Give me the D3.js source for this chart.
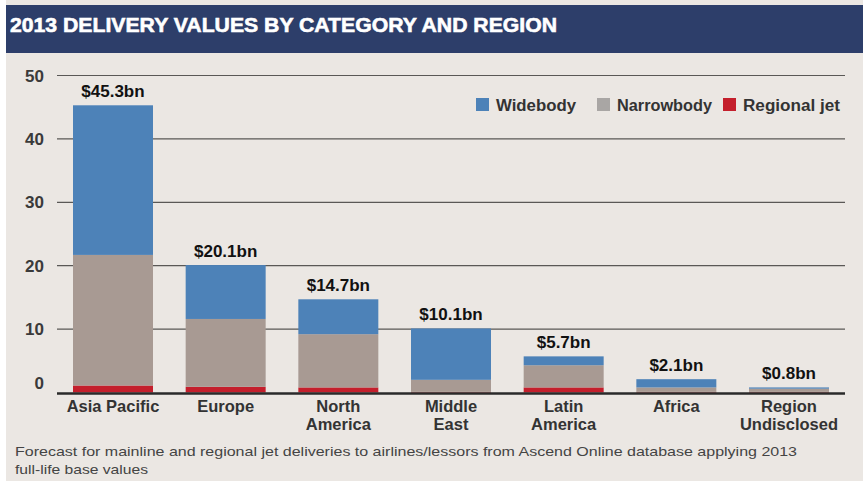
<html lang="en">
<head>
    <title>2013 delivery values by category and region</title>
    <style>
        body {
            margin: 0;
            background: #fff;
        }

        #chart {
            width: 863px;
            height: 481px;
        }

        .grid line {
            stroke: #5a5856;
            stroke-width: 1.2px;
        }

        text {
            font-family: "Liberation Sans", Arial, sans-serif;
        }
    </style>
</head>
<body>
<div id="chart"></div>
<script src="https://cdnjs.cloudflare.com/ajax/libs/d3/7.8.5/d3.min.js"></script>
<script>
    // data ($bn)
    const regions = ["Asia Pacific", "Europe", "North America", "Middle East", "Latin America", "Africa", "Region Undisclosed"];
    const regionLines = [["Asia Pacific"], ["Europe"], ["North", "America"], ["Middle", "East"], ["Latin", "America"], ["Africa"], ["Region", "Undisclosed"]];
    const regional = [1.1, 0.9, 0.8, 0.1, 0.8, 0.1, 0.1];
    const narrowbody = [20.6, 10.7, 8.4, 1.9, 3.5, 0.7, 0.5];
    const widebody = [23.6, 8.5, 5.5, 8.1, 1.4, 1.3, 0.2];
    const totals = ["$45.3bn", "$20.1bn", "$14.7bn", "$10.1bn", "$5.7bn", "$2.1bn", "$0.8bn"];
    const yTicks = [0, 10, 20, 30, 40, 50];
    const seriesNames = ["Widebody", "Narrowbody", "Regional jet"];
    const footnote = [
        "Forecast for mainline and regional jet deliveries to airlines/lessors from Ascend Online database applying 2013",
        "full-life base values"
    ];

    const width = 863;
    const height = 481;
    const colors = {"Widebody": "#4d82b8", "Narrowbody": "#a89a93", "Regional jet": "#c41f2c"};
    const legendColors = {"Widebody": "#4d82b8", "Narrowbody": "#a9a6a4", "Regional jet": "#c41f2c"};

    const svg = d3.select("#chart").append("svg")
        .attr("width", width)
        .attr("height", height);

    // background panel and title bar
    svg.append("rect").attr("x", 6).attr("y", 0).attr("width", width - 6).attr("height", height).attr("fill", "#ebe7e3");
    svg.append("rect").attr("x", 6).attr("y", 5).attr("width", width - 6).attr("height", 48).attr("fill", "#2d3e6a");
    svg.append("text")
        .attr("x", 10).attr("y", 32)
        .attr("fill", "#fff")
        .attr("font-family", "'DejaVu Sans Condensed', 'DejaVu Sans', sans-serif")
        .attr("font-weight", "bold")
        .attr("font-size", 21)
        .attr("stroke", "#fff")
        .attr("stroke-width", 0.6)
        .attr("textLength", 547)
        .attr("lengthAdjust", "spacingAndGlyphs")
        .text("2013 DELIVERY VALUES BY CATEGORY AND REGION");

    const x = d3.scaleBand()
        .domain(regions)
        .range([57, 845])
        .paddingInner(0.29)
        .paddingOuter(0.142);

    const y = d3.scaleLinear()
        .domain([0, 50])
        .range([392.5, 75.5]);

    // gridlines
    svg.append("g")
        .attr("class", "grid")
        .selectAll("line")
        .data(yTicks.filter(d => d > 0))
        .enter().append("line")
        .attr("x1", 57).attr("x2", 845)
        .attr("y1", d => y(d)).attr("y2", d => y(d));

    // y tick labels
    svg.append("g")
        .selectAll("text")
        .data(yTicks)
        .enter().append("text")
        .attr("x", 44)
        .attr("y", d => d === 0 ? y(d) - 4 : y(d) + 6)
        .attr("text-anchor", "end")
        .attr("font-size", 17)
        .attr("font-weight", "bold")
        .attr("fill", "#3a3a3a")
        .text(d => d);

    // stacked bars
    const rows = regions.map((r, i) => ({
        region: r,
        "Regional jet": regional[i],
        "Narrowbody": narrowbody[i],
        "Widebody": widebody[i]
    }));
    const stack = d3.stack().keys(["Regional jet", "Narrowbody", "Widebody"]);
    const layers = stack(rows);

    svg.append("g")
        .selectAll("g")
        .data(layers)
        .enter().append("g")
        .attr("fill", d => colors[d.key])
        .selectAll("rect")
        .data(d => d)
        .enter().append("rect")
        .attr("x", d => x(d.data.region))
        .attr("width", x.bandwidth())
        .attr("y", d => y(d[1]))
        .attr("height", d => y(d[0]) - y(d[1]));

    // baseline
    svg.append("line")
        .attr("x1", 57).attr("x2", 845)
        .attr("y1", y(0) + 1).attr("y2", y(0) + 1)
        .attr("stroke", "#2a2a2a")
        .attr("stroke-width", 2.5);

    // total labels
    const sums = regions.map((r, i) => regional[i] + narrowbody[i] + widebody[i]);
    svg.append("g")
        .selectAll("text")
        .data(regions)
        .enter().append("text")
        .attr("x", d => x(d) + x.bandwidth() / 2)
        .attr("y", (d, i) => y(sums[i]) - 8)
        .attr("text-anchor", "middle")
        .attr("font-size", 17)
        .attr("font-weight", "bold")
        .attr("fill", "#111")
        .text((d, i) => totals[i]);

    // category labels
    const cat = svg.append("g")
        .selectAll("text")
        .data(regions)
        .enter().append("text")
        .attr("x", d => x(d) + x.bandwidth() / 2)
        .attr("y", 412)
        .attr("text-anchor", "middle")
        .attr("font-size", 16.5)
        .attr("font-weight", "bold")
        .attr("fill", "#333");
    cat.selectAll("tspan")
        .data((d, i) => regionLines[i].map(t => ({t: t, cx: x(d) + x.bandwidth() / 2})))
        .enter().append("tspan")
        .attr("x", d => d.cx)
        .attr("dy", (d, i) => i === 0 ? 0 : 18)
        .text(d => d.t);

    // legend
    const legendX = [476, 597, 723];
    const legend = svg.append("g")
        .selectAll("g")
        .data(seriesNames)
        .enter().append("g")
        .attr("transform", (d, i) => "translate(" + legendX[i] + ",98)");
    legend.append("rect")
        .attr("width", 13).attr("height", 13)
        .attr("fill", d => legendColors[d]);
    legend.append("text")
        .attr("x", 20).attr("y", 12.5)
        .attr("font-size", 16)
        .attr("font-weight", "bold")
        .attr("fill", "#333")
        .attr("textLength", (d, i) => [80, 95, 97][i])
        .attr("lengthAdjust", "spacingAndGlyphs")
        .text(d => d);

    // footnote
    svg.append("g")
        .selectAll("text")
        .data(footnote)
        .enter().append("text")
        .attr("x", 15)
        .attr("y", (d, i) => 456 + i * 18)
        .attr("font-size", 13)
        .attr("fill", "#444")
        .attr("textLength", (d, i) => i === 0 ? 782 : 133)
        .attr("lengthAdjust", "spacingAndGlyphs")
        .text(d => d);
</script>
</body>
</html>
